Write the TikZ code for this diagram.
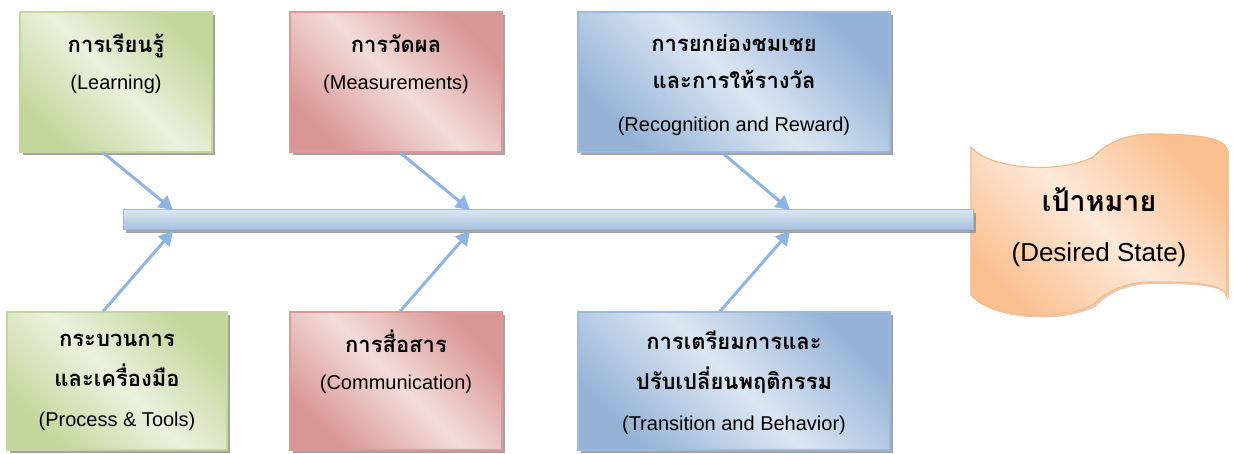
\documentclass[tikz,border=0pt]{standalone}
\usepackage{fontspec}
\setmainfont{Liberation Sans}
\newfontfamily\thaifont[Script=Thai,Scale=1.1]{Loma}
\usetikzlibrary{arrows.meta,shadows}

\definecolor{grnDark}{HTML}{C3D69B}
\definecolor{grnLight}{HTML}{EBF1DE}
\definecolor{grnLine}{HTML}{C4D79E}
\definecolor{redDark}{HTML}{D99694}
\definecolor{redLight}{HTML}{F2DCDB}
\definecolor{redLine}{HTML}{DA9A98}
\definecolor{bluDark}{HTML}{95B3D7}
\definecolor{bluLight}{HTML}{DCE6F2}
\definecolor{bluLine}{HTML}{9DB9DB}
\definecolor{orgDark}{HTML}{FAC090}
\definecolor{orgLight}{HTML}{FDE9D9}
\definecolor{orgLine}{HTML}{F8B98A}
\definecolor{boneCol}{HTML}{8EB4E3}

\newcommand{\thtxt}[1]{{\thaifont\bfseries #1}}

\tikzset{
  cause/.style={draw=#1Line, line width=1.2pt, top color=#1Dark, bottom color=#1Dark,
    middle color=#1Light, shading angle=-45,
    drop shadow={shadow xshift=3pt, shadow yshift=-3pt, fill=black!45, opacity=.8}},
  causetext/.style={align=center, font=\fontsize{20}{37}\selectfont},
  bone/.style={draw=boneCol, line width=3pt, -{Triangle[length=14pt,width=15pt]}}
}

\begin{document}
\begin{tikzpicture}[x=1pt, y=-1pt]
  \useasboundingbox (0,0) rectangle (1233,454);

  % goal (wave shape)
  \path[draw=orgLine, line width=1.2pt, top color=orgDark, bottom color=orgDark, middle color=orgLight, shading angle=-45,
        drop shadow={shadow xshift=2pt, shadow yshift=-2pt, fill=orgDark!80!black, opacity=.5}]
    (971,147) .. controls (990,170) and (1060,174) .. (1093,157)
    .. controls (1110,140) and (1130,133) .. (1160,134)
    .. controls (1200,135) and (1225,138) .. (1227,150)
    -- (1227,297)
    .. controls (1225,285) and (1200,282) .. (1160,282)
    .. controls (1130,281) and (1110,288) .. (1093,305)
    .. controls (1060,322) and (990,318) .. (971,295) -- cycle;
  \node[align=center, font=\fontsize{26}{50}\selectfont] (goal) at (1099,227) {\thtxt{เป้าหมาย}\\(Desired State)};

  % spine
  \node[draw=bluLine, line width=1pt, top color=bluLight, bottom color=bluDark!85, minimum width=850pt, minimum height=20pt, inner sep=0pt,
        drop shadow={shadow xshift=3pt, shadow yshift=-3pt, fill=black!45, opacity=.8}] (spine) at (548,220) {};

  % causes
  \node[cause=grn, minimum width=192pt, minimum height=140pt] (learn) at (116,82) {};
  \node[causetext] (learnT) at (116,64) {\thtxt{การเรียนรู้}\\(Learning)};
  \node[cause=red, minimum width=212pt, minimum height=140pt] (meas) at (396,82) {};
  \node[causetext] (measT) at (396,64) {\thtxt{การวัดผล}\\(Measurements)};
  \node[cause=blu, minimum width=312pt, minimum height=140pt] (reward) at (734,82) {};
  \node[causetext] (rewardT) at (734,85) {\thtxt{การยกย่องชมเชย}\\\thtxt{และการให้รางวัล}\\[6pt](Recognition and Reward)};

  \node[cause=grn, minimum width=220pt, minimum height=138pt] (tools) at (117,381) {};
  \node[causetext] (toolsT) at (117,382) {\thtxt{กระบวนการ}\\[3pt]\thtxt{และเครื่องมือ}\\[3pt](Process \& Tools)};
  \node[cause=red, minimum width=212pt, minimum height=138pt] (comm) at (396,381) {};
  \node[causetext] (commT) at (396,362) {\thtxt{การสื่อสาร}\\(Communication)};
  \node[cause=blu, minimum width=312pt, minimum height=138pt] (trans) at (734,381) {};
  \node[causetext] (transT) at (734,383) {\thtxt{การเตรียมการและ}\\[3pt]\thtxt{ปรับเปลี่ยนพฤติกรรม}\\[4pt](Transition and Behavior)};

  % points on the spine
  \coordinate (s1) at (173,210);
  \coordinate (s2) at (470,210);
  \coordinate (s3) at (790,210);
  \coordinate (s4) at (173,231);
  \coordinate (s5) at (470,231);
  \coordinate (s6) at (790,231);

  \draw[bone] ([xshift=-13pt]learn.south) -- (s1);
  \draw[bone] ([xshift=4pt]meas.south) -- (s2);
  \draw[bone] ([xshift=-12pt]reward.south) -- (s3);
  \draw[bone] ([xshift=-14pt]tools.north) -- (s4);
  \draw[bone] ([xshift=4pt]comm.north) -- (s5);
  \draw[bone] ([xshift=-14pt]trans.north) -- (s6);
\end{tikzpicture}
\end{document}
